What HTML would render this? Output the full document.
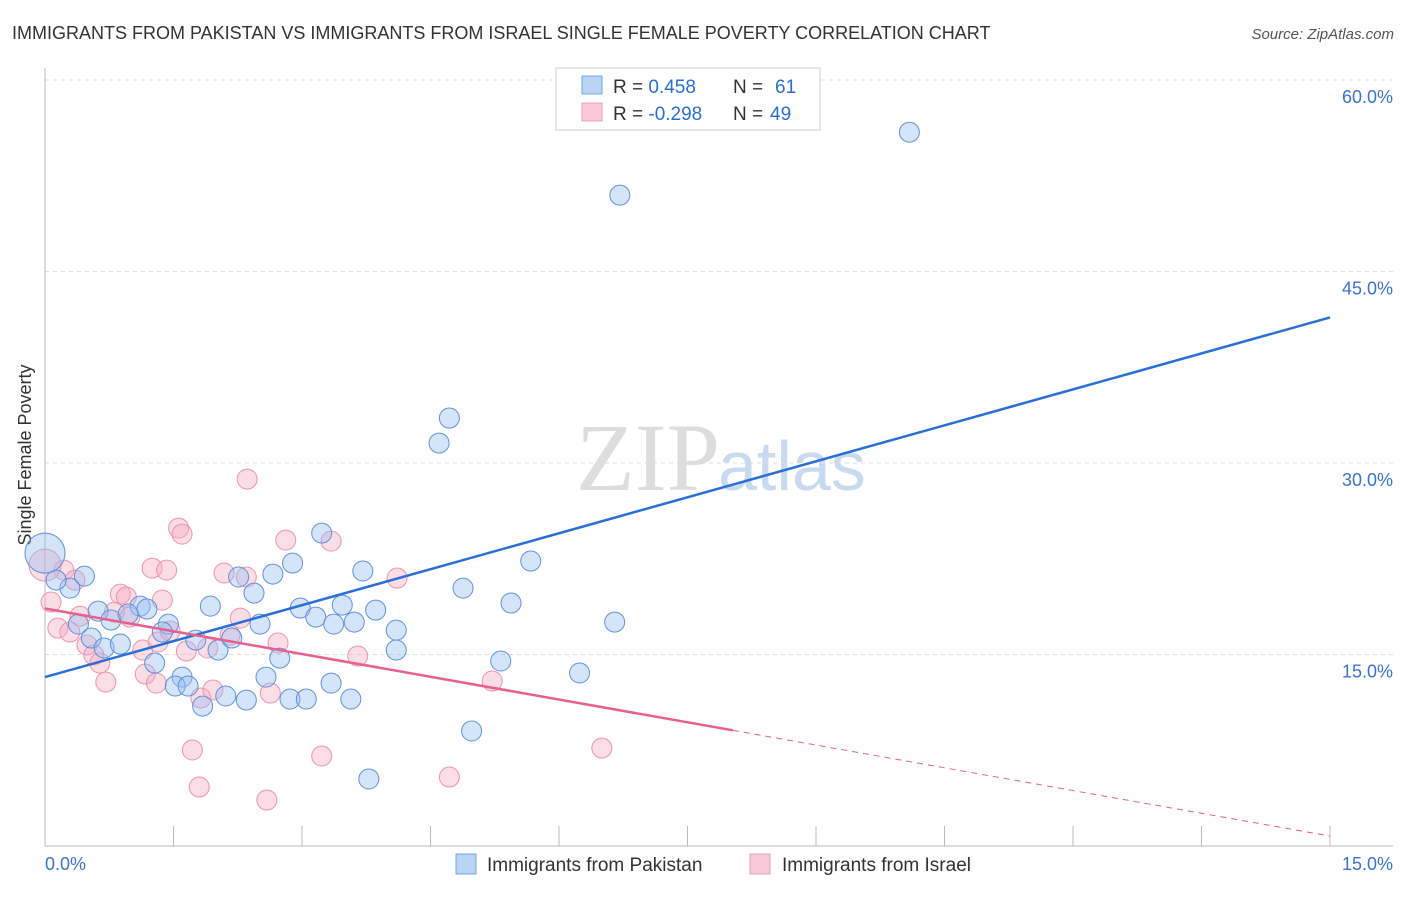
<!DOCTYPE html>
<html><head><meta charset="utf-8"><style>
body{margin:0;background:#fff;font-family:"Liberation Sans",sans-serif}
</style></head><body>
<svg width="1406" height="892" viewBox="0 0 1406 892" xmlns="http://www.w3.org/2000/svg">
<text x="12" y="39" font-size="18" fill="#333">IMMIGRANTS FROM PAKISTAN VS IMMIGRANTS FROM ISRAEL SINGLE FEMALE POVERTY CORRELATION CHART</text>
<text x="1394" y="39" font-size="15" fill="#555" font-style="italic" text-anchor="end">Source: ZipAtlas.com</text>
<text x="720" y="490" font-size="96" fill="#ddd" font-family="Liberation Serif,serif" text-anchor="end">ZIP</text>
<text x="718" y="490" font-size="70" fill="#c8daf0">atlas</text>
<g id="grid"></g>
<line x1="45" y1="68" x2="45" y2="846" stroke="#bbb"/>
<line x1="45" y1="846" x2="1393" y2="846" stroke="#bbb"/>
<g id="xticks"></g>
<text x="31" y="455" font-size="18" fill="#333" text-anchor="middle" transform="rotate(-90 31 455)">Single Female Poverty</text>
<text x="45" y="870" font-size="18" fill="#3a73d0">0.0%</text>
<text x="1393" y="870" font-size="18" fill="#3a73d0" text-anchor="end">15.0%</text>
<g id="points"></g>
<g id="lines"></g>
<g>
<rect x="556" y="68" width="264" height="62" fill="#fff" stroke="#ccc"/>
<rect x="582" y="76" width="20" height="18" fill="#b9d3f5" stroke="#7aa6e0"/>
<rect x="582" y="103" width="20" height="18" fill="#f9c9d6" stroke="#eaa0b6"/>
<text x="613" y="93" font-size="19" fill="#333">R = <tspan fill="#2a6fd6">0.458</tspan><tspan x="733">N = </tspan><tspan fill="#2a6fd6" x="775">61</tspan></text>
<text x="613" y="120" font-size="19" fill="#333">R = <tspan fill="#2a6fd6">-0.298</tspan><tspan x="733">N = </tspan><tspan fill="#2a6fd6" x="770">49</tspan></text>
</g>
<g>
<rect x="456" y="854" width="20" height="20" fill="#b9d3f5" stroke="#7aa6e0"/>
<text x="487" y="871" font-size="19" fill="#333">Immigrants from Pakistan</text>
<rect x="750" y="854" width="20" height="20" fill="#f9c9d6" stroke="#eaa0b6"/>
<text x="782" y="871" font-size="19" fill="#333">Immigrants from Israel</text>
</g>
</svg>
<script>
const yTicks=[15,30,45,60];
const yTickLabels=["15.0%","30.0%","45.0%","60.0%"];
const xTicks=[0,1.5,3,4.5,6,7.5,9,10.5,12,13.5,15];
const pakX=[10.09,6.71,4.72,4.60,3.23,5.67,3.71,4.88,0.46,0.29,2.66,2.89,2.26,2.44,1.93,2.98,3.47,3.86,5.44,6.65,0.62,0.77,1.11,1.19,0.97,1.44,1.37,0.39,0.54,0.69,0.88,1.76,2.02,2.18,2.51,3.16,3.37,3.61,4.10,4.10,1.28,1.60,1.52,1.67,2.58,2.74,3.34,5.32,6.24,2.11,2.35,2.86,3.05,3.57,1.84,4.98,3.78,0.13,0.0];
const pakY=[55.91,50.98,33.52,31.56,24.51,22.32,21.54,20.20,21.14,20.20,21.30,22.16,21.07,19.81,18.79,18.64,18.87,18.48,19.03,17.54,18.40,17.70,18.79,18.56,18.17,17.38,16.76,17.38,16.29,15.51,15.82,16.13,15.35,16.29,17.38,17.93,17.38,17.54,16.91,15.35,14.33,13.23,12.53,12.53,13.23,14.72,12.76,14.49,13.55,11.75,11.43,11.51,11.51,11.51,10.96,9.01,5.25,20.83,22.94];
const isrX=[2.36,1.56,1.60,2.81,3.34,1.25,1.42,2.09,2.35,4.11,0.22,0.35,0.88,0.95,1.37,2.28,0.07,0.0,0.15,0.29,0.41,0.81,0.99,1.14,1.32,1.46,1.65,1.90,2.16,2.72,3.65,0.49,0.57,0.64,0.71,1.17,1.30,1.82,1.96,2.63,5.22,1.72,3.23,6.50,4.72,1.80,2.59];
const isrY=[28.74,24.90,24.43,23.96,23.88,21.77,21.61,21.38,21.07,20.99,21.61,20.83,19.73,19.50,19.26,17.85,19.11,22.0,17.07,16.76,18.01,18.32,17.93,15.35,15.98,16.84,15.27,15.51,16.52,15.90,14.88,15.74,14.96,14.33,12.84,13.47,12.76,11.59,12.22,11.98,12.92,7.52,7.05,7.67,5.40,4.62,3.60];
const pakTrend=[13.23,41.4];
const isrTrend=[18.6,0.78];
const isrSolidEnd=8.03;
const NS="http://www.w3.org/2000/svg";
const sx=v=>45+v*(1285/15);
const sy=v=>846-v*(766/60);
function mk(tag,attrs,parent){const e=document.createElementNS(NS,tag);for(const k in attrs)e.setAttribute(k,attrs[k]);parent.appendChild(e);return e;}
const grid=document.getElementById('grid');
yTicks.forEach((t,i)=>{
 const l=mk('line',{x1:45,x2:1393,y1:sy(t),y2:sy(t),stroke:'#ddd','stroke-dasharray':'4 4'},grid);
 
 
 const tx=mk('text',{x:1393,y:sy(t)+23,'font-size':18,fill:'#3a73d0','text-anchor':'end'},grid);
 tx.textContent=yTickLabels[i];
 
 
});
const xt=document.getElementById('xticks');
xTicks.forEach(t=>{
 const l=mk('line',{x1:sx(t),x2:sx(t),y1:826,y2:846,stroke:'#bbb'},xt);
 
 
});
const pts=document.getElementById('points');
isrX.forEach((x,i)=>{
 const r=(x===0)?16:10;
 const c=mk('circle',{cx:sx(x),cy:sy(isrY[i]),r:r,fill:'rgba(246,170,192,0.4)',stroke:'#eb93ad','stroke-width':1},pts);
 
 
});
pakX.forEach((x,i)=>{
 const r=(x===0)?20:10;
 const c=mk('circle',{cx:sx(x),cy:sy(pakY[i]),r:r,fill:'rgba(150,190,240,0.4)',stroke:'#5e91db','stroke-width':1},pts);
 
 
});
const ln=document.getElementById('lines');
const b=mk('line',{x1:sx(0),y1:sy(pakTrend[0]),x2:sx(15),y2:sy(pakTrend[1]),stroke:'#2a6fd6','stroke-width':2.5},ln);


const iy=x=>isrTrend[0]+(isrTrend[1]-isrTrend[0])*x/15;
const p=mk('line',{x1:sx(0),y1:sy(iy(0)),x2:sx(isrSolidEnd),y2:sy(iy(isrSolidEnd)),stroke:'#e8608e','stroke-width':2.5},ln);


const pd=mk('line',{x1:sx(isrSolidEnd),y1:sy(iy(isrSolidEnd)),x2:sx(15),y2:sy(iy(15)),stroke:'#e8608e','stroke-width':1,'stroke-dasharray':'6 5'},ln);


</script>
</body></html>
